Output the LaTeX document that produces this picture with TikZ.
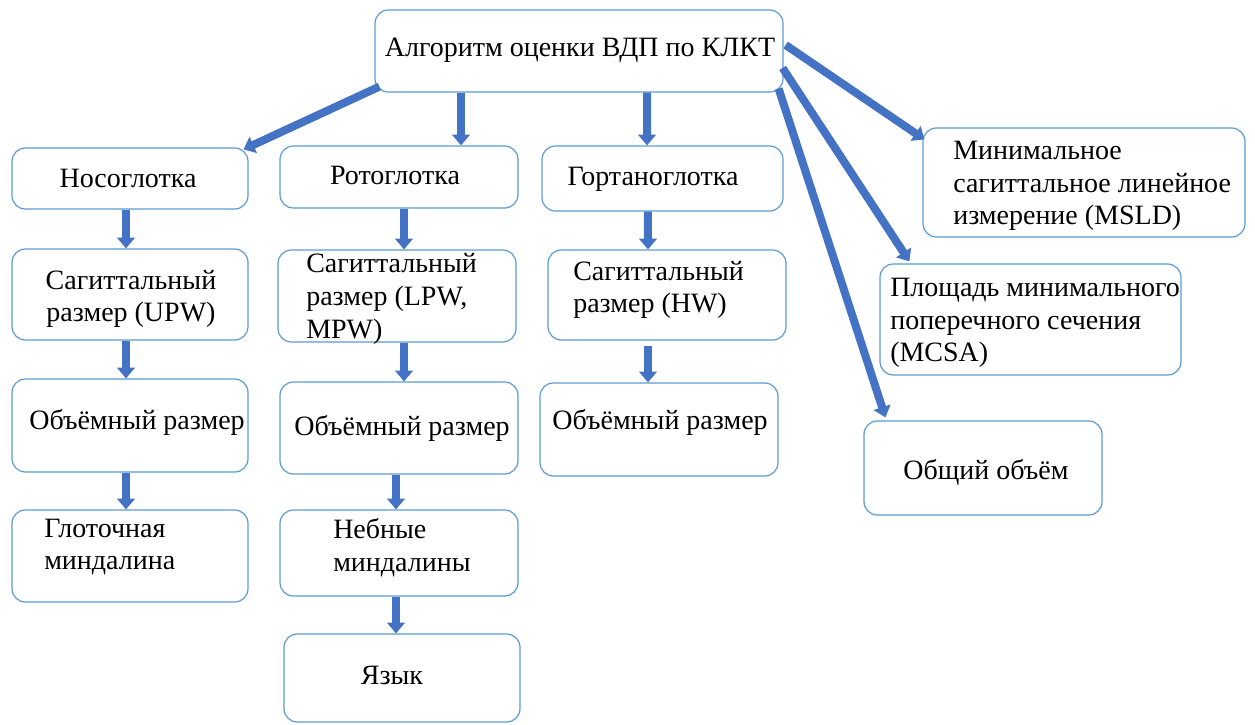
\documentclass[tikz,border=0pt]{standalone}
\usepackage{fontspec}
\setmainfont{Liberation Serif}
\usetikzlibrary{arrows.meta}
\definecolor{arrblue}{HTML}{4472C4}
\definecolor{boxblue}{HTML}{5B9BD5}
\tikzset{
  x=0.75pt, y=-0.75pt,
  box/.style={draw=boxblue, line width=0.9pt, rounded corners=10pt, fill=white, inner sep=0pt},
  txt/.style={font=\fontsize{21}{24.5}\selectfont, inner sep=0pt, align=left},
  ctxt/.style={font=\fontsize{21}{24.5}\selectfont, inner sep=0pt, align=center},
  arr/.style={draw=arrblue, line width=6pt, -{Triangle[width=13pt,length=8pt]}, fill=arrblue},
}
\newcommand\mybox[5]{\node[box, minimum width=#4*0.75pt, minimum height=#5*0.75pt] (#1) at (#2,#3) {};}
\begin{document}
\begin{tikzpicture}
\useasboundingbox (0,0) rectangle (1255,724);
% boxes
\mybox{top}{579}{51}{408}{82}
\mybox{nos}{130}{178.5}{236}{61}
\mybox{rot}{399}{177}{238}{62}
\mybox{gor}{662.5}{178.5}{241}{65}
\mybox{sa}{130}{294.5}{236}{91}
\mybox{sb}{397}{296}{238}{92}
\mybox{sc}{667}{295}{238}{90}
\mybox{va}{130}{425.5}{236}{93}
\mybox{vb}{399}{428}{238}{92}
\mybox{vc}{659}{429.5}{238}{93}
\mybox{ga}{130}{556}{236}{92}
\mybox{nb}{399}{553}{238}{86}
\mybox{ya}{402}{678}{236}{88}
\mybox{msld}{1084}{182.5}{322}{109}
\mybox{mcsa}{1030.5}{319.5}{301}{111}
\mybox{ob}{983}{468}{238}{94}
% texts
\node[ctxt] (ttop) at (580,50) {Алгоритм оценки ВДП по КЛКТ};
\node[ctxt] (tnos) at (128,178) {Носоглотка};
\node[ctxt] (trot) at (395,175) {Ротоглотка};
\node[ctxt] (tgor) at (653,179) {Гортаноглотка};
\node[ctxt] (tsa) at (131,299) {Сагиттальный\\размер (UPW)};
\node[txt, anchor=west] (tsb) at (306,299) {Сагиттальный\\размер (LPW,\\MPW)};
\node[txt, anchor=west] (tsc) at (573,290) {Сагиттальный\\размер (HW)};
\node[ctxt] (tva) at (137,422) {Объёмный размер};
\node[ctxt] (tvb) at (402,428) {Объёмный размер};
\node[ctxt] (tvc) at (660,422) {Объёмный размер};
\node[txt, anchor=west] (tga) at (44,547) {Глоточная\\миндалина};
\node[txt, anchor=west] (tnb) at (333,548) {Небные\\миндалины};
\node[ctxt] (tya) at (392,675) {Язык};
\node[txt, anchor=west] (tmsld) at (953,186) {Минимальное\\сагиттальное линейное\\измерение (MSLD)};
\node[txt, anchor=west] (tmcsa) at (890,323) {Площадь минимального\\поперечного сечения\\(MCSA)};
\node[ctxt] (tob) at (986,472) {Общий объём};
% arrows from top
\draw[arr] ([xshift=3.75pt,yshift=4.5pt]top.south west) -- ([xshift=-3.75pt,yshift=-1.5pt]nos.north east);
\draw[arr] ([xshift=-88.5pt]top.south) -- ([xshift=46.5pt]rot.north);
\draw[arr] ([xshift=51pt]top.south) -- ([xshift=-11.6pt]gor.north);
\draw[arr] ([xshift=1.5pt,yshift=4.5pt]top.east) -- ([xshift=1.5pt,yshift=-9pt]msld.north west);
\draw[arr] ([xshift=-0.75pt,yshift=-12.75pt]top.east) -- ([xshift=22.5pt,yshift=1.5pt]mcsa.north west);
\draw[arr] ([xshift=-3.75pt,yshift=3pt]top.south east) -- ([xshift=16.5pt,yshift=2.25pt]ob.north west);
% column arrows
\draw[arr] ([xshift=-3pt]nos.south) -- ([xshift=-3pt]sa.north);
\draw[arr] ([xshift=-3pt]sa.south) -- ([xshift=-3pt]va.north);
\draw[arr] ([xshift=-3pt]va.south) -- ([xshift=-3pt]ga.north);
\draw[arr] ([xshift=3.75pt]rot.south) -- ([xshift=5.25pt]sb.north);
\draw[arr] ([xshift=5.25pt]sb.south) -- ([xshift=3.75pt]vb.north);
\draw[arr] ([xshift=-2.25pt]vb.south) -- ([xshift=-2.25pt]nb.north);
\draw[arr] ([xshift=-2.25pt]nb.south) -- ([xshift=-4.5pt]ya.north);
\draw[arr] ([xshift=-10.9pt]gor.south) -- ([xshift=-14.25pt]sc.north);
\draw[arr] ([xshift=-14.25pt,yshift=-3.75pt]sc.south) -- ([xshift=-8.25pt]vc.north);
\end{tikzpicture}
\end{document}
